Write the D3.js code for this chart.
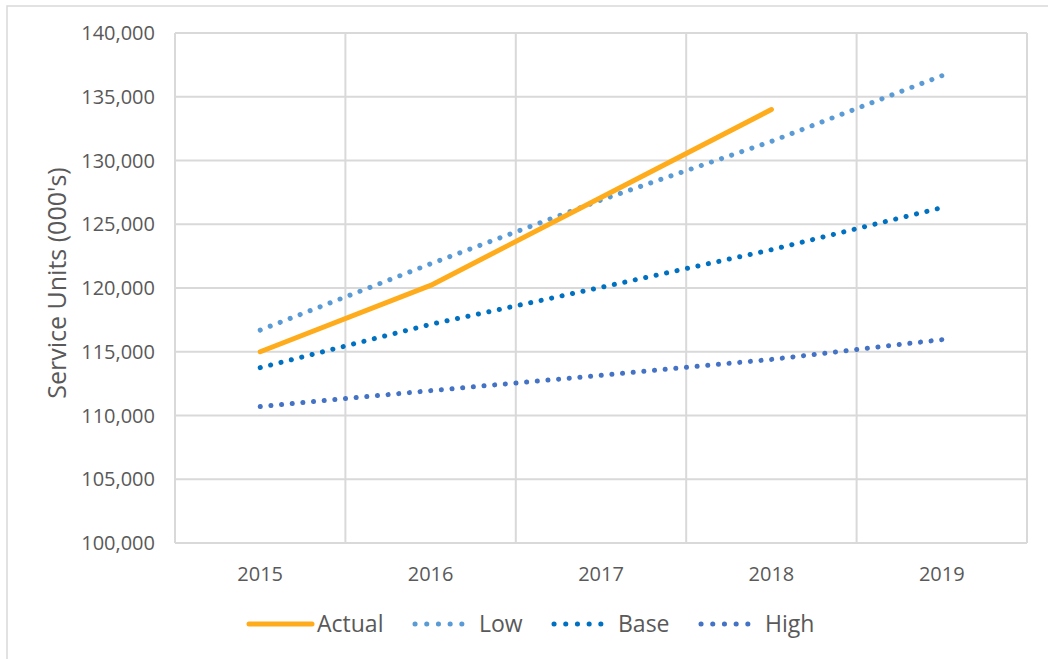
<!DOCTYPE html>
<html><head><meta charset="utf-8">
<script src="https://cdn.jsdelivr.net/npm/d3@7"></script>
<style>body{margin:0;background:#fff;}svg{display:block;font-family:"Open Sans",sans-serif;}</style>
</head><body><svg id="c" width="1048" height="659"></svg>
<script>
const years = ["2015","2016","2017","2018","2019"];
const actual = [115000, 120200, 127100, 134000];
const low = [116700, 121900, 126900, 131500, 136650];
const base = [113750, 117150, 120050, 123000, 126300];
const high = [110700, 111950, 113150, 114400, 115950];
const yTicks = [100000,105000,110000,115000,120000,125000,130000,135000,140000];

const series = [
  {name:"Actual", values:actual, color:"#FFAC1C", dotted:false},
  {name:"Low", values:low, color:"#5B9BD5", dotted:true},
  {name:"Base", values:base, color:"#0070C0", dotted:true},
  {name:"High", values:high, color:"#4472C4", dotted:true}
];

const svg = d3.select("#c");
svg.append("rect").attr("x",7).attr("y",6).attr("width",1060).attr("height",670)
  .attr("fill","none").attr("stroke","#D9D9D9").attr("stroke-width",1.5);

const L=175, R=1027, T=33, B=543;
const x = d3.scaleBand().domain(years).range([L,R]);
const y = d3.scaleLinear().domain([100000,140000]).range([B,T]);
const fmt = d3.format(",");

svg.append("g").selectAll("line").data(yTicks).join("line")
  .attr("x1",L).attr("x2",R).attr("y1",d=>y(d)).attr("y2",d=>y(d))
  .attr("stroke","#D9D9D9").attr("stroke-width",2);
const bounds = years.map(d=>x(d)).concat([R]);
svg.append("g").selectAll("line").data(bounds).join("line")
  .attr("x1",d=>d).attr("x2",d=>d).attr("y1",T).attr("y2",B)
  .attr("stroke","#D9D9D9").attr("stroke-width",2);

svg.append("g").selectAll("text").data(yTicks).join("text")
  .attr("x",155).attr("y",d=>y(d)).attr("dy","0.35em").attr("text-anchor","end")
  .attr("font-size",20).attr("fill","#595959").text(d=>fmt(d));
svg.append("g").selectAll("text").data(years).join("text")
  .attr("x",d=>x(d)+x.bandwidth()/2).attr("y",574).attr("dy","0.35em").attr("text-anchor","middle")
  .attr("font-size",20).attr("fill","#595959").text(d=>d);
svg.append("text").attr("transform",`translate(57,${(T+B)/2-5}) rotate(-90)`)
  .attr("text-anchor","middle").attr("dy","0.35em").attr("font-size",25).attr("fill","#595959")
  .text("Service Units (000's)");

const line = d3.line().x((d,i)=>x(years[i])+x.bandwidth()/2).y(d=>y(d));
series.slice().reverse().forEach(s=>{
  const p = svg.append("path").datum(s.values).attr("d",line).attr("fill","none")
    .attr("stroke",s.color).attr("stroke-linecap","round").attr("stroke-linejoin","round");
  if(s.dotted){ p.attr("stroke-width",5).attr("stroke-dasharray","0.1 10.6"); }
  else { p.attr("stroke-width",5); }
});

// legend
const legX = [249, 415, 554, 701];
const lg = svg.append("g");
series.forEach((s,i)=>{
  const x0 = legX[i];
  lg.append("line").attr("x1",x0).attr("x2",x0+(s.dotted?58:63)).attr("y1",624).attr("y2",624)
    .attr("stroke",s.color).attr("stroke-linecap","round")
    .attr("stroke-width",5)
    .attr("stroke-dasharray",s.dotted?"0.1 11.6":null);
  lg.append("text").attr("x",x0+(s.dotted?64:68)).attr("y",624).attr("dy","0.35em")
    .attr("font-size",23).attr("fill","#595959").text(s.name);
});
</script></body></html>
